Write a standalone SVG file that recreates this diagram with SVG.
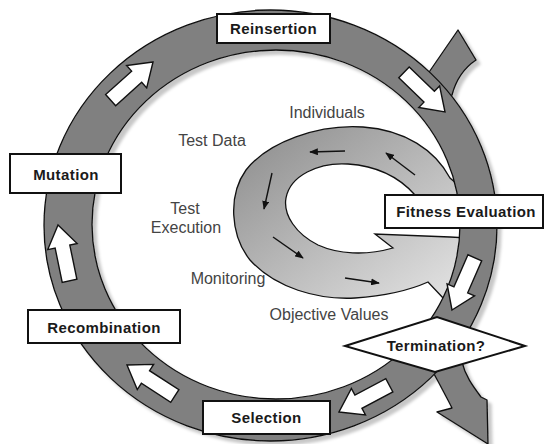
<svg xmlns="http://www.w3.org/2000/svg" xmlns:xlink="http://www.w3.org/1999/xlink" width="545" height="444" viewBox="0 0 545 444">
  <style>
    .band { fill: #808080; stroke: #111; stroke-width: 1.3; stroke-linejoin: round; }
    .box { fill: #fff; stroke: #111; stroke-width: 2; }
    .blk { fill: #fff; stroke: #111; stroke-width: 1.4; stroke-linejoin: miter; }
    .lbl { font-family: "Liberation Sans", Arial, sans-serif; font-weight: bold; font-size: 15px; fill: #1a1a1a; text-anchor: middle; letter-spacing: 0.4px; }
    .txt { font-family: "Liberation Sans", Arial, sans-serif; font-size: 16px; fill: #444; text-anchor: middle; }
    .flow { stroke: #111; stroke-width: 1.4; fill: none; marker-end: url(#ah); }
  </style>
  <defs>
    <linearGradient id="cg" x1="0" y1="0" x2="1" y2="1">
      <stop offset="0" stop-color="#8a8a8a"/>
      <stop offset="0.55" stop-color="#bdbdbd"/>
      <stop offset="1" stop-color="#e6e6e6"/>
    </linearGradient>
    <filter id="sh" x="-5%" y="-5%" width="115%" height="115%">
      <feDropShadow dx="4" dy="4" stdDeviation="1.5" flood-color="#000" flood-opacity="0.22"/>
    </filter>
    <marker id="ah" viewBox="0 0 10 8" refX="9" refY="4" markerWidth="9" markerHeight="7" markerUnits="userSpaceOnUse" orient="auto">
      <path d="M0,0 L10,4 L0,8 z" fill="#111"/>
    </marker>
    <polygon id="ba" points="0,0 -22,-15 -22,-7.5 -57,-7.5 -57,7.5 -22,7.5 -22,15"/>
  </defs>

  <!-- inner evaluation loop -->
  <g id="inner-loop">
    <path d="M470,195 L450,178 C435,150 405,130 363,127 C318,124 268,142 246,170 C228,195 230,235 250,260 C275,288 318,300 355,298 C385,296 410,290 428,282 L445,300 L470,300 L470,238 L450,237 L375,234 L393,248 C365,256 338,254 318,245 C296,234 283,215 286,198 C290,176 318,162 348,164 C378,166 400,178 415,195 L430,210 L470,210 Z" fill="url(#cg)" stroke="#111" stroke-width="1.3" stroke-linejoin="miter"/>
  </g>

  <!-- connectors: main cycle, entry tail, exit arrow, flow arrows -->
  <g id="connectors">
    <g filter="url(#sh)">
      <path id="entry" class="band" d="M425,78 L458,30 L476,60 Q458,72 452,95 L440,104 Z"/>
      <path id="exit" class="band" d="M425,355 L433,372 C440,385 447,398 452,408 L437,412 L488,444 L487,400 L481,397 C472,385 465,375 462,362 C462,350 468,340 470,330 Z"/>
      <path id="cycle" class="band" fill-rule="evenodd" d="M44,225.5 A226.5,215.5 0 1,0 497,225.5 A226.5,215.5 0 1,0 44,225.5 Z M92,224.5 A184,174.5 0 1,0 460,224.5 A184,174.5 0 1,0 92,224.5 Z"/>
    </g>
    <use href="#ba" class="blk" transform="translate(153,62) rotate(-42)"/>
    <use href="#ba" class="blk" transform="translate(445,112) rotate(44)"/>
    <use href="#ba" class="blk" transform="translate(452,310) rotate(113.6)"/>
    <use href="#ba" class="blk" transform="translate(339,412) rotate(152)"/>
    <use href="#ba" class="blk" transform="translate(127,365) rotate(213)"/>
    <use href="#ba" class="blk" transform="translate(58,225) rotate(258.3)"/>
    <line class="flow" x1="415" y1="175" x2="386" y2="153"/>
    <line class="flow" x1="345" y1="151" x2="310" y2="152"/>
    <line class="flow" x1="272" y1="173" x2="264" y2="209"/>
    <line class="flow" x1="273" y1="237" x2="303" y2="258"/>
    <line class="flow" x1="345" y1="278" x2="379" y2="283"/>
  </g>

  <g id="reinsertion">
    <rect class="box" x="217" y="14" width="113" height="29"/>
    <text class="lbl" x="273.5" y="34">Reinsertion</text>
  </g>
  <g id="mutation">
    <rect class="box" x="10" y="154" width="111" height="39"/>
    <text class="lbl" x="66" y="180">Mutation</text>
  </g>
  <g id="fitness-evaluation">
    <rect class="box" x="385" y="195" width="158" height="33"/>
    <text class="lbl" x="466" y="217">Fitness Evaluation</text>
  </g>
  <g id="recombination">
    <rect class="box" x="28" y="310" width="152" height="33"/>
    <text class="lbl" x="104" y="333">Recombination</text>
  </g>
  <g id="selection">
    <rect class="box" x="203" y="401" width="127" height="33"/>
    <text class="lbl" x="266.5" y="423">Selection</text>
  </g>
  <g id="termination">
    <polygon class="box" stroke-width="1.5" points="345,346 437,317 525,346 435,372"/>
    <text class="lbl" x="436" y="351">Termination?</text>
  </g>

  <g id="labels">
    <text class="txt" x="327" y="118">Individuals</text>
    <text class="txt" x="212" y="146">Test Data</text>
    <text class="txt" x="185" y="214" font-size="15">Test</text>
    <text class="txt" x="186" y="233" font-size="15">Execution</text>
    <text class="txt" x="228" y="284">Monitoring</text>
    <text class="txt" x="329" y="320">Objective Values</text>
  </g>
</svg>
